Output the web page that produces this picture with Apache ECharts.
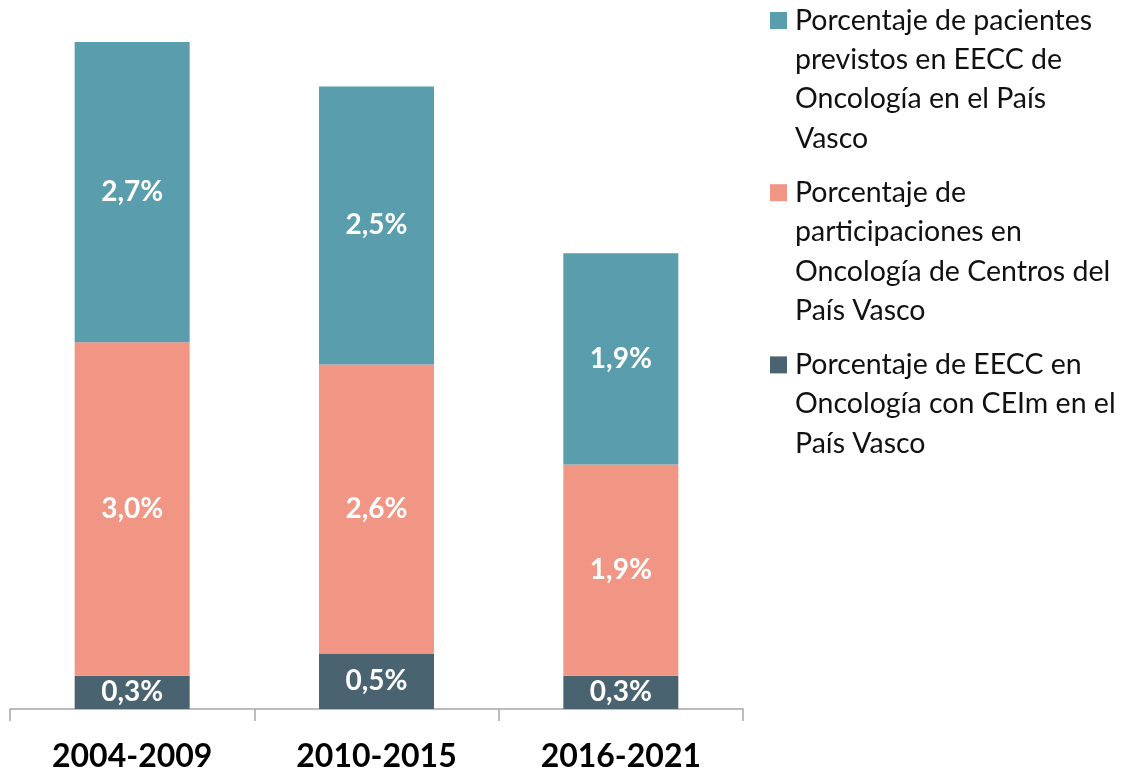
<!DOCTYPE html>
<html>
<head>
<meta charset="utf-8">
<script src="https://cdn.jsdelivr.net/npm/echarts@6/dist/echarts.min.js"></script>
<style>
  html, body { margin: 0; padding: 0; background: #fff; }
  #main { width: 1125px; height: 773px; }
</style>
</head>
<body>
<div id="main"></div>
<script>
// periodos
var categorias = ['2004-2009', '2010-2015', '2016-2021'];

// valores (%)
var eeccCeim = [0.3, 0.5, 0.3];          // EECC en Oncología con CEIm
var participaciones = [3.0, 2.6, 1.9];   // participaciones en Oncología
var pacientes = [2.7, 2.5, 1.9];         // pacientes previstos

var nombres = [
  'Porcentaje de pacientes previstos en EECC de Oncología en el País Vasco',
  'Porcentaje de participaciones en Oncología de Centros del País Vasco',
  'Porcentaje de EECC en Oncología con CEIm en el País Vasco'
];
// lineas de la leyenda, tal como aparecen
var lineasLeyenda = [
  ['Porcentaje de pacientes', 'previstos en EECC de', 'Oncología en el País', 'Vasco'],
  ['Porcentaje de', 'participaciones en', 'Oncología de Centros del', 'País Vasco'],
  ['Porcentaje de EECC en', 'Oncología con CEIm en el', 'País Vasco']
];
var colores = ['#5A9DAC', '#F19684', '#4A6370'];

var fuente = 'Lato, "Open Sans", sans-serif';

function fmt(p) {
  return p.value.toFixed(1).replace('.', ',') + '%';
}

function serie(nombre, datos, color) {
  return {
    name: nombre,
    type: 'bar',
    stack: 'total',
    barWidth: 115,
    data: datos,
    itemStyle: { color: color },
    label: {
      show: true,
      position: 'inside',
      formatter: fmt,
      color: '#fff',
      fontFamily: fuente,
      fontWeight: 'bold',
      fontSize: 28
    }
  };
}

var chart = echarts.init(document.getElementById('main'));

var option = {
  animation: false,
  textStyle: { fontFamily: fuente },
  grid: { left: 10, right: 382, top: 42, bottom: 62, containLabel: false },
  legend: {
    orient: 'vertical',
    left: 765,
    top: 6,
    padding: 0,
    icon: 'none',
    itemWidth: 0,
    itemHeight: 0,
    itemGap: 25,
    selectedMode: false,
    data: nombres,
    formatter: function (name) {
      var i = nombres.indexOf(name);
      var l = lineasLeyenda[i];
      var s = '{c' + i + '|}{sp|}{t|' + l[0] + '}';
      for (var k = 1; k < l.length; k++) {
        s += '\n{ind|}{t|' + l[k] + '}';
      }
      return s;
    },
    textStyle: {
      rich: {
        c0: { width: 17, height: 17, backgroundColor: colores[0] },
        c1: { width: 17, height: 17, backgroundColor: colores[1] },
        c2: { width: 17, height: 17, backgroundColor: colores[2] },
        sp: { width: 8 },
        ind: { width: 25 },
        t: { fontSize: 28.5, lineHeight: 39.4, color: '#111', fontFamily: fuente }
      }
    }
  },
  xAxis: {
    type: 'category',
    data: categorias,
    axisLine: { lineStyle: { color: '#A6A6A6', width: 1.5 } },
    axisTick: { show: true, length: 12, lineStyle: { color: '#A6A6A6', width: 1.5 } },
    axisLabel: {
      color: '#000',
      fontWeight: 'bold',
      fontSize: 32,
      fontFamily: fuente,
      margin: 32
    }
  },
  yAxis: {
    type: 'value',
    min: 0,
    max: 6,
    show: false,
    splitLine: { show: false }
  },
  series: [
    serie(nombres[2], eeccCeim, colores[2]),
    serie(nombres[1], participaciones, colores[1]),
    serie(nombres[0], pacientes, colores[0])
  ]
};

chart.setOption(option);
</script>
</body>
</html>
